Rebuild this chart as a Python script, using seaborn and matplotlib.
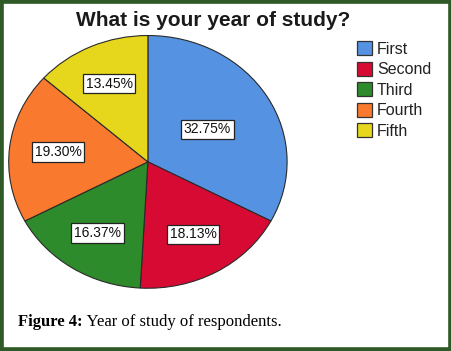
import numpy as np
import pandas as pd
import matplotlib
matplotlib.use('Agg')
import matplotlib.pyplot as plt
import seaborn as sns
from matplotlib.patches import Rectangle

years = ['First', 'Second', 'Third', 'Fourth', 'Fifth']
percents = [32.75, 18.13, 16.37, 19.30, 13.45]
label_dist = [0.50, 0.66, 0.67, 0.65, 0.68]
colors = ['#5592e2', '#d70a33', '#2e8b2b', '#f97a2f', '#e6d71c']

df = pd.DataFrame({'year': years, 'percent': percents})

sns.set_style('white')
plt.rcParams['font.family'] = ['Liberation Sans', 'DejaVu Sans']
palette = sns.color_palette(colors)

fig = plt.figure(figsize=(4.52, 3.51), dpi=100)
fig.patch.set_facecolor('white')

# pie area (slightly stretched, as in the original)
ax = fig.add_axes([0.0177, 0.177, 0.619, 0.7236])
wedges, _ = ax.pie(df['percent'], colors=palette, startangle=90, counterclock=False,
                   wedgeprops=dict(edgecolor='#2a2a2a', linewidth=0.8))
ax.set_aspect('auto')
ax.set_xlim(-1.005, 1.005)
ax.set_ylim(-1.005, 1.005)
ax.axis('off')

for w, p, d in zip(wedges, df['percent'], label_dist):
    ang = np.deg2rad((w.theta1 + w.theta2) / 2)
    ax.text(d * np.cos(ang), d * np.sin(ang), f'{p:.2f}%', ha='center', va='center',
            fontsize=10, color='#111111',
            bbox=dict(boxstyle='square,pad=0.2', facecolor='white', edgecolor='#222222', linewidth=0.9))

fig.text(0.472, 0.943, 'What is your year of study?', ha='center', va='center',
         fontsize=15, fontweight='bold', color='#1a1a1a')

handles = [plt.Rectangle((0, 0), 1, 1, facecolor=c, edgecolor='#333333', linewidth=0.9) for c in palette]
fig.legend(handles, df['year'], loc='upper left', bbox_to_anchor=(0.772, 0.905),
           frameon=False, fontsize=11.5, handlelength=0.95, handleheight=0.95,
           handletextpad=0.3, labelspacing=0.32, borderpad=0, labelcolor='#222222')

t1 = fig.text(0.04, 0.072, 'Figure 4:', ha='left', va='baseline', fontsize=12,
              fontweight='bold', family='Liberation Serif', color='black')
ax.annotate(' Year of study of respondents.', xy=(1, 0), xycoords=t1, xytext=(0, 0),
            textcoords='offset points', ha='left', va='bottom', fontsize=12,
            family='Liberation Serif', color='black', annotation_clip=False)

fig.patches.append(Rectangle((0, 0), 1, 1, transform=fig.transFigure, fill=False,
                             edgecolor='#2f5a28', linewidth=5.5, clip_on=True))

fig.savefig('out.png', dpi=100)
